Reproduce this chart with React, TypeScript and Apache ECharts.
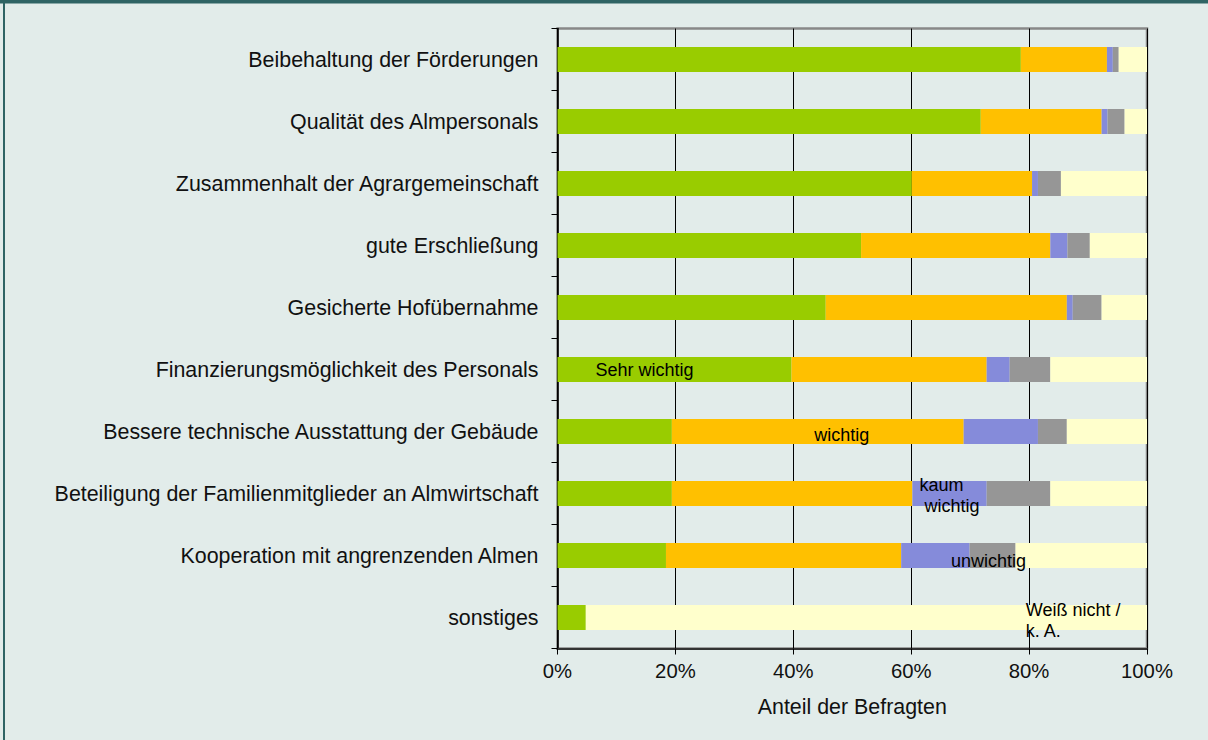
import React, { useEffect, useRef } from "react";
import * as echarts from "echarts";

const categories = [
  "Beibehaltung der Förderungen",
  "Qualität des Almpersonals",
  "Zusammenhalt der Agrargemeinschaft",
  "gute Erschließung",
  "Gesicherte Hofübernahme",
  "Finanzierungsmöglichkeit des Personals",
  "Bessere technische Ausstattung der Gebäude",
  "Beteiligung der Familienmitglieder an Almwirtschaft",
  "Kooperation mit angrenzenden Almen",
  "sonstiges",
];

const seriesNames = ["Sehr wichtig", "wichtig", "kaum wichtig", "unwichtig", "Weiß nicht / k. A."];

const sehrWichtig = [78.6, 71.8, 60.1, 51.5, 45.5, 39.7, 19.4, 19.4, 18.4, 4.8];
const wichtig = [14.6, 20.5, 20.4, 32.1, 40.9, 33.1, 49.5, 40.8, 39.9, 0];
const kaumWichtig = [1.0, 1.0, 1.0, 2.9, 1.0, 3.9, 12.6, 12.6, 11.6, 0];
const unwichtig = [1.0, 2.9, 3.9, 3.8, 4.9, 6.9, 4.9, 10.8, 7.8, 0];
const weissNicht = [4.8, 3.8, 14.6, 9.7, 7.7, 16.4, 13.6, 16.4, 22.3, 95.2];

const xTicks = [0, 20, 40, 60, 80, 100];

const colors = ["#99CC00", "#FFC000", "#858BDA", "#969696", "#FFFFCC"];

const FONT = "'Liberation Sans', Arial, sans-serif";

const labelDefs: any[] = [
  { idx: 5, text: "Sehr wichtig", position: "insideLeft", offset: [33, 0] },
  { idx: 6, text: "wichtig", position: "inside", offset: [24, 3] },
  { idx: 7, text: "kaum\n wichtig", position: "insideLeft", offset: [2, 2] },
  { idx: 8, text: "unwichtig", position: "inside", offset: [-4, 5] },
  { idx: 9, text: "Weiß nicht /\nk. A.", position: "insideLeft", offset: [435, 3] },
];

export default function App() {
  const ref = useRef<HTMLDivElement>(null);

  useEffect(() => {
    if (!ref.current) return;
    const chart = echarts.init(ref.current, undefined, { renderer: "svg" });
    const allValues = [sehrWichtig, wichtig, kaumWichtig, unwichtig, weissNicht];

    const series = allValues.map((vals, si) => {
      const def = labelDefs[si];
      return {
        name: seriesNames[si],
        type: "bar",
        stack: "total",
        barWidth: 25,
        itemStyle: { color: colors[si] },
        emphasis: { disabled: true },
        label: { show: false },
        data: vals.map((v, i) =>
          i === def.idx
            ? {
                value: v,
                label: {
                  show: true,
                  formatter: def.text,
                  position: def.position,
                  offset: def.offset,
                  align: def.position === "inside" ? "center" : "left",
                  color: "#000",
                  fontSize: 18,
                  fontFamily: FONT,
                  lineHeight: 21,
                  textBorderWidth: 0,
                },
              }
            : v
        ),
      };
    });

    chart.setOption({
      animation: false,
      backgroundColor: "#E2ECEA",
      textStyle: { fontFamily: FONT },
      graphic: [
        { type: "rect", left: 0, top: 0, shape: { width: 1208, height: 3.5 }, style: { fill: "#2F6464" }, silent: true },
        { type: "rect", left: 3, top: 0, shape: { width: 2, height: 740 }, style: { fill: "#2F6464" }, silent: true },
      ],
      grid: {
        left: 557.5,
        right: 61,
        top: 28.5,
        bottom: 91.5,
        show: true,
        borderColor: "#888888",
        borderWidth: 2.5,
        backgroundColor: "transparent",
      },
      xAxis: {
        type: "value",
        min: xTicks[0],
        max: xTicks[xTicks.length - 1],
        interval: 20,
        name: "Anteil der Befragten",
        nameLocation: "middle",
        nameGap: 48,
        nameTextStyle: { fontSize: 21.4, color: "#111", fontFamily: FONT },
        axisLine: { show: true, lineStyle: { color: "#333", width: 2 } },
        axisTick: { show: true, length: 6, lineStyle: { color: "#000", width: 1 } },
        axisLabel: { formatter: "{value}%", fontSize: 20.3, color: "#111", margin: 12, fontFamily: FONT },
        splitLine: { show: true, lineStyle: { color: "#000", width: 1 } },
      },
      yAxis: {
        type: "category",
        inverse: true,
        data: categories,
        axisLine: { show: true, lineStyle: { color: "#000", width: 1.5 } },
        axisTick: { show: true, length: 6, alignWithLabel: false, lineStyle: { color: "#000", width: 1 } },
        axisLabel: { fontSize: 21.4, color: "#111", margin: 19, fontFamily: FONT },
        splitLine: { show: false },
      },
      series,
    });

    return () => chart.dispose();
  }, []);

  return (
    <div
      ref={ref}
      style={{ position: "fixed", left: 0, top: 0, width: 1208, height: 740 }}
    />
  );
}
